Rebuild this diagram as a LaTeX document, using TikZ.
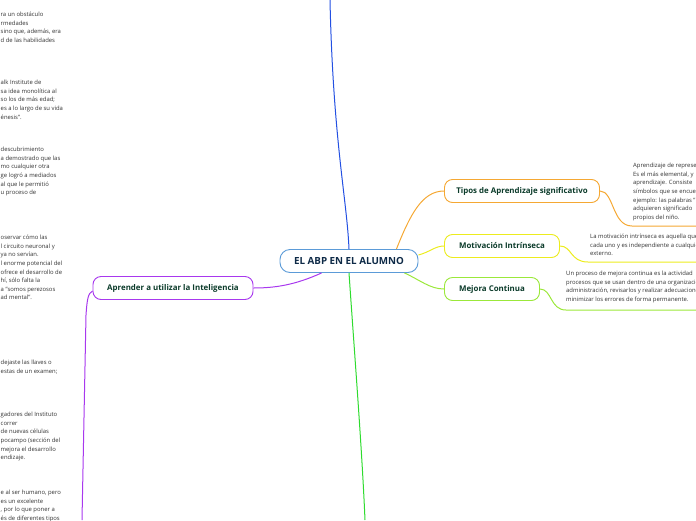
\documentclass[tikz,border=0pt]{standalone}
\usepackage{fontspec}
\setmainfont{Open Sans}
\usepackage{xcolor}
\usetikzlibrary{positioning}
\definecolor{mapblue}{HTML}{2350E2}
\definecolor{rootblue}{HTML}{5B9BD8}
\definecolor{maporange}{HTML}{F5A833}
\definecolor{mapyellow}{HTML}{ECEC1E}
\definecolor{maplime}{HTML}{9BE83A}
\definecolor{mapgreen}{HTML}{2EDB2E}
\definecolor{mappurple}{HTML}{A838EE}
\definecolor{labelgreen}{HTML}{0B3B2A}
\definecolor{rootnavy}{HTML}{0E2A47}
\definecolor{notegray}{HTML}{333333}

\begin{document}
\begin{tikzpicture}[
  x=1pt,y=-1pt,
  font=\fontsize{5.9}{8.6}\selectfont,
  topic/.style={draw,fill=white,line width=0.9pt,rounded corners=8pt,minimum height=23pt,inner xsep=6pt,font=\fontsize{7.9}{9}\selectfont\bfseries,text=labelgreen},
  note/.style={align=left,inner sep=0pt,anchor=north west,text=notegray},
  branch/.style={line width=1pt}
]
\useasboundingbox (0,0) rectangle (696,520);
\clip (0,0) rectangle (696,520);
% central topic and branches
\node[topic,draw=rootblue,rounded corners=10pt,minimum width=138pt,font=\fontsize{9.8}{11}\selectfont\bfseries,text=rootnavy] (root) at (349,261) {EL ABP EN EL ALUMNO};
\node[topic,draw=maporange,minimum width=155pt] (tipos) at (522,191) {Tipos de Aprendizaje significativo};
\node[topic,draw=mapyellow,minimum width=115pt] (motiv) at (502,246) {Motivación Intrínseca};
\node[topic,draw=maplime,minimum width=95pt] (mejora) at (492,289) {Mejora Continua};
\node[topic,draw=mappurple,minimum width=160pt] (aprender) at (173,288) {Aprender a utilizar la Inteligencia};
\coordinate (topin) at (330,0);
\coordinate (bottomout) at (365,520);
\coordinate (leftdown) at (82,520);
\coordinate (tiposend) at (696,226);
\coordinate (motivend) at (696,262);
\coordinate (mejoraend) at (696,310);
% notes, left side
\node[note] (n1) at (0.5,12) {ra un obstáculo\\rmedades\\sino que, además, era\\d de las habilidades};
\node[note] (n2) at (0.5,80) {alk Institute de\\sa idea monolítica al\\so los de más edad;\\es a lo largo de su vida\\énesis".};
\node[note] (n3) at (0.5,147) {descubrimiento\\a demostrado que las\\mo cualquier otra\\ge logró a mediados\\al que le permitió\\u proceso de};
\node[note] (n4) at (0.5,235) {oservar cómo las\\l circuito neuronal y\\ya no servían.\\l enorme potencial del\\ofrece el desarrollo de\\hí, sólo falta la\\a "somos perezosos\\ad mental".};
\node[note] (n5) at (0.5,360) {dejaste las llaves o\\estas de un examen;};
\node[note] (n6) at (0.5,412) {gadores del Instituto\\correr\\de nuevas células\\pocampo (sección del\\mejora el desarrollo\\endizaje.};
\node[note] (n7) at (0.5,490) {e al ser humano, pero\\es un excelente\\, por lo que poner a\\és de diferentes tipos};
% notes, right side
\node[note] (r1) at (633,163) {Aprendizaje de representaciones\\Es el más elemental, y\\aprendizaje. Consiste\\símbolos que se encuentran\\ejemplo: las palabras "\\adquieren significado\\propios del niño.};
\node[note] (r2) at (590,234) {La motivación intrínseca es aquella que\\cada uno y es independiente a cualquier\\externo.};
\node[note] (r3) at (566,271) {Un proceso de mejora continua es la actividad\\procesos que se usan dentro de una organización\\administración, revisarlos y realizar adecuaciones\\minimizar los errores de forma permanente.};
% connectors
\draw[branch,mapblue] (topin) .. controls (333,140) and (347,200) .. (root.north);
\draw[branch,mapgreen] (root.south) .. controls (355,360) and (362,450) .. (bottomout);
\draw[branch,maporange] (root.north east) ++(-22,0) .. controls (410,215) and (422,191) .. (tipos.west);
\draw[branch,mapyellow] (root.east) ++(0,-6) .. controls (430,252) and (435,246) .. (motiv.west);
\draw[branch,maplime] (root.south east) ++(-14,0) .. controls (420,280) and (430,289) .. (mejora.west);
\draw[branch,mappurple] (root.south west) ++(42,0) .. controls (295,285) and (275,288) .. (aprender.east);
\draw[branch,mappurple] (aprender.west) ++(0,3) .. controls (88,293) and (87,300) .. (86,315) -- (leftdown);
\draw[branch,maporange] (tipos.east) .. controls (614,191) and (612,226) .. (632,226) -- (tiposend);
\draw[branch,mapyellow] (motiv.east) .. controls (572,246) and (570,262) .. (588,262) -- (motivend);
\draw[branch,maplime] (mejora.east) .. controls (552,289) and (550,310) .. (566,310) -- (mejoraend);
\end{tikzpicture}
\end{document}
